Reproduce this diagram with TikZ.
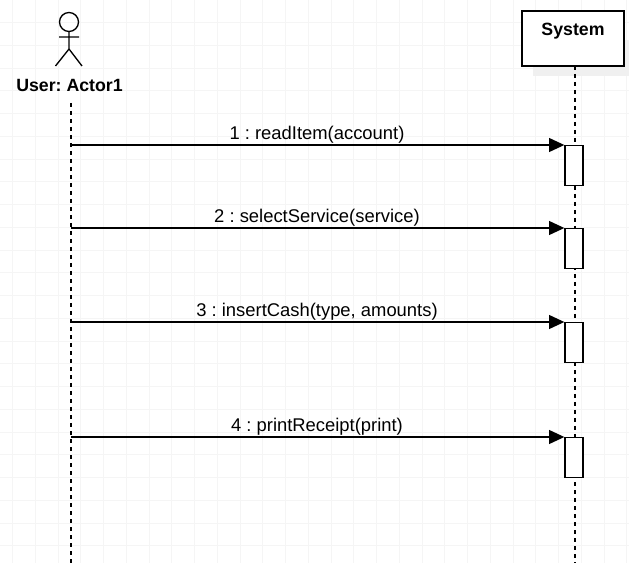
\documentclass[tikz,border=0pt]{standalone}
\usepackage{fontspec}
\setmainfont{Liberation Sans}
\usetikzlibrary{arrows.meta}
\definecolor{gridc}{RGB}{245,245,245}
\definecolor{shadowc}{RGB}{240,240,240}
\tikzset{
  px/.style={x=0.75pt,y=-0.75pt},
  life/.style={black,line width=0.9pt,dash pattern=on 3.2pt off 2.8pt},
  msg/.style={black,line width=1pt,-{Triangle[length=11.5pt,width=10.5pt]}},
  act/.style={draw=black,fill=white,line width=1pt,minimum width=13.5pt,minimum height=30pt,inner sep=0pt},
  lbl/.style={font=\frenchspacing\fontsize{13.8pt}{16pt}\selectfont,inner sep=0pt,anchor=base},
  hdr/.style={font=\frenchspacing\bfseries\fontsize{13.3pt}{16pt}\selectfont,inner sep=0pt,anchor=base}
}
\begin{document}
\begin{tikzpicture}[px]
\useasboundingbox (0,0) rectangle (629,563);
\fill[white] (0,0) rectangle (629,563);
\foreach \k in {0,...,27} \draw[gridc,line width=0.6pt] ({12.5+22.75*\k},0) -- ({12.5+22.75*\k},563);
\foreach \k in {0,...,24} \draw[gridc,line width=0.6pt] (0,{22.5+22.75*\k}) -- (629,{22.5+22.75*\k});
\fill[shadowc] (533,40) rectangle (629,76);
\node[draw=black,fill=white,line width=1pt,minimum width=76.5pt,minimum height=41.25pt,inner sep=0pt] (sys) at (573,38.5) {};
\node[hdr] (systxt) at (573,35.5) {System};
\node[hdr] (usr) at (69.5,92) {User: Actor1};
\coordinate (ut) at (71,103);
\coordinate (ub) at (71,563);
\coordinate (st) at (575,66);
\coordinate (sb) at (575,563);
\draw[life] (ut) -- (ub);
\draw[life] (st) -- (sb);
\draw[line width=1pt] (69,22) circle (9.5);
\draw[line width=1pt] (69,31.5) -- (69,49) (59,37) -- (79,37) (69,49) -- (55.5,66) (69,49) -- (82,66);
\foreach \n/\y/\t in {1/145/{1 : readItem(account)},2/228/{2 : selectService(service)},3/322/{3 : insertCash(type, amounts)},4/437/{4 : printReceipt(print)}}{
  \node[act,anchor=north] (a\n) at (574,\y) {};
  \coordinate (u\n) at (71,\y);
  \draw[msg] (u\n) -- (a\n.north west);
  \node[lbl] (t\n) at (317,\y-5.5) {\t};
}
\end{tikzpicture}
\end{document}
